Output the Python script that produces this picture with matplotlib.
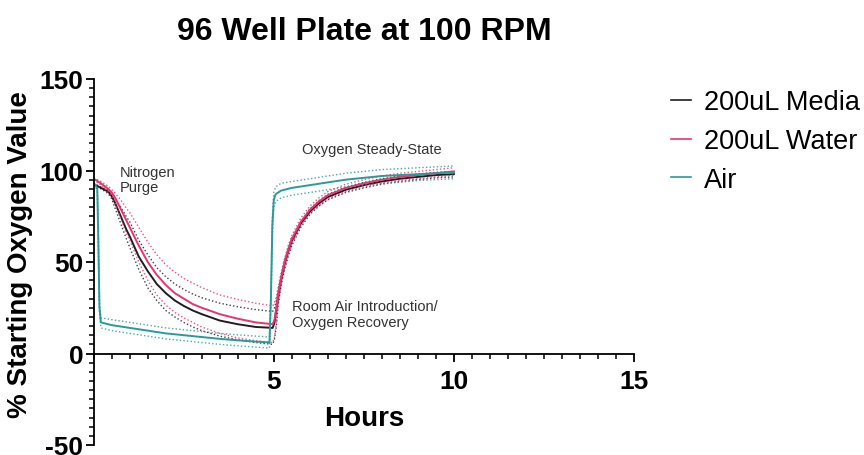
import matplotlib
matplotlib.use("Agg")
import matplotlib.pyplot as plt
from matplotlib.lines import Line2D
from matplotlib.ticker import MultipleLocator

plt.rcParams["font.family"] = ["Liberation Sans", "DejaVu Sans"]
plt.rcParams["axes.unicode_minus"] = False

# ---- data: % of starting oxygen over time (hours) ----
# 200uL media: purge then recovery, mean and +/- SD envelopes
media_t = [0, 0.2, 0.4, 0.5, 0.6, 0.75, 0.9, 1.0, 1.25, 1.5, 1.75, 2.0, 2.25, 2.5,
           2.75, 3.0, 3.5, 4.0, 4.5, 4.97, 5.02, 5.07, 5.12, 5.2, 5.3, 5.4, 5.5,
           5.75, 6.0, 6.25, 6.5, 7.0, 7.5, 8.0, 8.5, 9.0, 9.5, 10.0]
media_mean = [92.5, 90.5, 88.5, 86, 82, 75, 68, 64, 53, 45, 38, 33, 29, 26,
              23.5, 21.5, 18, 16, 14.5, 14, 17, 24, 31, 40, 49, 56, 61.5,
              71, 77.5, 82, 85.5, 89.5, 92, 94, 95.5, 96.5, 97.5, 98]
media_hi = [93, 91, 89.5, 87.5, 84, 80, 75, 72, 62, 54, 47, 42, 38, 35,
            32.5, 30.5, 27.5, 25.5, 24, 23, 25, 29, 34, 42, 51, 57, 63,
            72, 79, 83.5, 87, 91, 93.5, 95.5, 97, 98, 99, 99.5]
media_lo = [92, 90, 87.5, 84.5, 79, 71, 63, 58, 46, 36, 29, 23.5, 20, 17,
            14.5, 12.5, 9.5, 7.5, 6, 5, 8, 15, 26, 37, 46, 53, 59,
            69, 76, 80.5, 84, 88, 90.5, 92.5, 94, 95, 96, 96.5]

# 200uL water
water_t = media_t
water_mean = [95.5, 93, 90, 88, 85, 79, 73, 69, 59, 50, 43, 37.5, 33, 30,
              27, 25, 21.5, 19, 17, 16, 18.5, 25, 32, 41, 50, 57, 62.5,
              72, 78.5, 83, 86.5, 90.5, 93, 95, 96.5, 97.5, 98.5, 99.5]
water_hi = [96, 94, 91.5, 89.5, 87.5, 84, 79.5, 77, 69, 61, 54, 48.5, 44.5, 41,
            38.5, 36, 32, 29.5, 27.5, 26, 28, 31, 36, 44, 52, 59, 64.5,
            74, 80.5, 85, 88.5, 92.5, 95, 97, 98.5, 99.5, 100.5, 101.5]
water_lo = [95, 92, 88.5, 86.5, 82, 74, 66, 62, 50, 40, 32, 26.5, 22.5, 19.5,
            17, 14.5, 11, 8.5, 7, 6, 9, 17, 27, 38, 47, 54, 60,
            70, 76.5, 81, 84.5, 88.5, 91, 93, 94.5, 95.5, 96.5, 97.5]

# air-filled wells
air_t = [0, 0.05, 0.1, 0.13, 0.16, 0.2, 0.5, 1.0, 1.5, 2.0, 2.5, 3.0, 3.5, 4.0,
         4.5, 4.88, 4.92, 4.96, 5.0, 5.05, 5.2, 5.5, 6.0, 6.5, 7.0, 7.5, 8.0,
         8.5, 9.0, 9.5, 10.0]
air_mean = [93, 92, 90, 60, 25, 17, 15.5, 14, 12.5, 11, 10, 9, 8, 7.2,
            6.5, 6, 30, 70, 84, 87, 89, 90.5, 92, 93.5, 95, 96, 97,
            97.5, 98, 98.5, 99]
air_hi = [94, 93, 91, 65, 28, 19.5, 18.5, 17, 15.5, 14, 13, 12, 11, 10.2,
          9.5, 9, 35, 75, 88, 91, 93, 94, 95.5, 97, 98.5, 99.5, 100.5,
          101, 101.5, 102, 102.5]
air_lo = [92, 91, 89, 55, 22, 14, 12.5, 11, 9.5, 8, 7, 6, 5, 4.2,
          3.5, 3, 25, 65, 80, 83, 85, 86.5, 88, 89.5, 91, 92, 93,
          93.5, 94.5, 95, 95.5]

group_names = ["200uL Media", "200uL Water", "Air"]
group_colors = ["#1e1e1e", "#e8346e", "#2a9a98"]

fig = plt.figure(figsize=(8.64, 4.56), dpi=100)
ax = fig.add_axes([93.7 / 864, 1 - 446 / 456, (634 - 93.7) / 864, (446 - 80) / 456])

groups = [
    (media_t, media_mean, media_hi, media_lo),
    (water_t, water_mean, water_hi, water_lo),
    (air_t, air_mean, air_hi, air_lo),
]
for (t, m, hi, lo), c in zip(groups, group_colors):
    ax.plot(t, hi, color=c, lw=1.0, ls=(0, (1, 1.6)), alpha=0.85)
    ax.plot(t, lo, color=c, lw=1.0, ls=(0, (1, 1.6)), alpha=0.85)
    ax.plot(t, m, color=c, lw=1.4)

ax.set_xlim(0, 15)
ax.set_ylim(-50, 150)
ax.spines["top"].set_visible(False)
ax.spines["right"].set_visible(False)
ax.spines["bottom"].set_position(("data", 0))
for s in ("left", "bottom"):
    ax.spines[s].set_linewidth(1.3)

ax.xaxis.set_major_locator(MultipleLocator(5))
ax.xaxis.set_minor_locator(MultipleLocator(0.5))
ax.yaxis.set_major_locator(MultipleLocator(50))
ax.yaxis.set_minor_locator(MultipleLocator(5))
ax.set_xticks([5, 10, 15])
ax.tick_params(which="major", length=6, width=1.3, labelsize=19)
ax.tick_params(axis="x", which="major", pad=5)
ax.tick_params(axis="y", which="major", pad=1.5)
ax.tick_params(which="minor", length=3.5, width=1.1)
for lab in ax.get_xticklabels() + ax.get_yticklabels():
    lab.set_fontweight("bold")

ax.set_xlabel("Hours", fontsize=20, fontweight="bold", labelpad=9)
ax.set_ylabel("% Starting Oxygen Value", fontsize=20, fontweight="bold")
ax.yaxis.set_label_coords(-0.113, 0.522)
ax.set_title("96 Well Plate at 100 RPM", fontsize=23, fontweight="bold", pad=29)

note = dict(fontsize=10.5, color="#333333", va="center", ha="left")
ax.text(0.73, 95, "Nitrogen\nPurge", linespacing=1.15, **note)
ax.text(5.78, 112, "Oxygen Steady-State", **note)
ax.text(5.5, 21.5, "Room Air Introduction/\nOxygen Recovery", linespacing=1.2, **note)

handles = [Line2D([], [], color=c, lw=1.2) for c in group_colors]
fig.legend(handles, group_names, loc="upper left",
           bbox_to_anchor=(671 / 864, 1 - 90.5 / 456), frameon=False,
           fontsize=19.5, handlelength=0.75, handletextpad=0.45,
           labelspacing=0.47, borderaxespad=0, borderpad=0)

fig.savefig("out.png", dpi=100)
